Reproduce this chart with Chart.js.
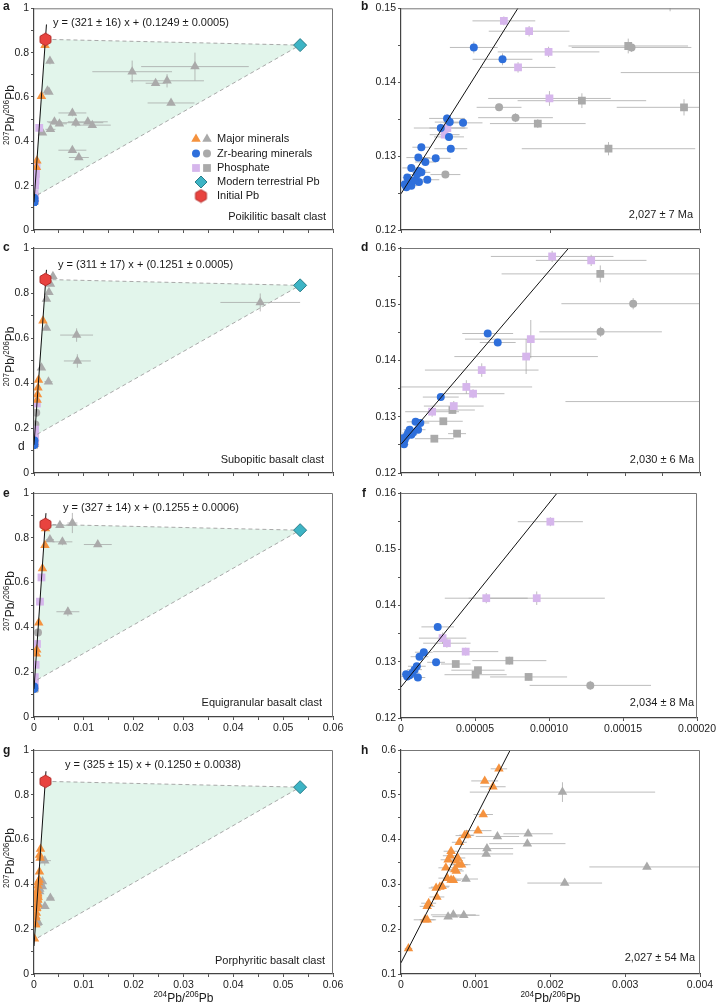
<!DOCTYPE html>
<html>
<head>
<meta charset="utf-8">
<script src="https://cdn.jsdelivr.net/npm/chart.js@4"></script>
<style>
  body { margin: 0; background: #fff; }
  #wrap { position: relative; width: 718px; height: 1007px; }
  #wrap canvas { position: absolute; left: 0; top: 0; }
</style>
</head>
<body>
<div id="wrap"></div>
<script>
// ---- data: each point is [x, y, xErr, yErr] ----

const initialPb = [0.0023, 0.86];
const modernPb = [0.0534, 0.834];

// b (zoom of a)
const bZr = [[4.87e-5,0.1447,1.6e-5,0.0008],[6.79e-5,0.1431,2.0e-5,0.0008],[3.08e-5,0.1351,1.2e-5,0.0006],
  [3.26e-5,0.1346,1.0e-5,0.0006],[2.66e-5,0.1338,1.8e-5,0.0006],[4.15e-5,0.1345,1.3e-5,0.0006],
  [3.21e-5,0.1326,1.0e-5,0.0005],[3.33e-5,0.1310,1.1e-5,0.0005],[1.36e-5,0.1312,6e-6,0.0004],
  [1.16e-5,0.1298,8e-6,0.0004],[2.32e-5,0.1297,1.0e-5,0.0004],[1.63e-5,0.1292,7e-6,0.0004],
  [6.9e-6,0.1284,6e-6,0.0004],[1.2e-5,0.1280,5e-6,0.0003],[1.36e-5,0.1278,6e-6,0.0003],
  [1.07e-5,0.1275,5e-6,0.0003],[1.76e-5,0.1268,8e-6,0.0003],[4.2e-6,0.1271,3e-6,0.0003],
  [5.4e-6,0.1267,3e-6,0.0003],[2.5e-6,0.1262,3e-6,0.0003],[6.9e-6,0.1260,4e-6,0.0003],
  [1.2e-5,0.1265,5e-6,0.0003],[9.2e-6,0.1267,4e-6,0.0003],[3.6e-6,0.1258,3e-6,0.0003]];
const bZrGrey = [[1.542e-4,0.1447,4.0e-5,0.0006],[6.56e-5,0.1366,1.5e-5,0.0005],
  [7.66e-5,0.1352,2.5e-5,0.0006],[2.97e-5,0.1275,1.0e-5,0.0004]];
const bPhos = [[6.88e-5,0.1483,2.1e-5,0.0006],[8.57e-5,0.1469,2.7e-5,0.0007],[9.87e-5,0.1441,3.4e-5,0.0007],
  [7.83e-5,0.1420,2.5e-5,0.0007],[9.93e-5,0.1378,4.1e-5,0.0010],[3.10e-5,0.1338,1.2e-5,0.0006],
  [2.92e-5,0.1329,1.0e-5,0.0005]];
const bPhosGrey = [[1.52e-4,0.1449,4.0e-5,0.0010],[1.21e-4,0.1375,4.3e-5,0.0010],[1.893e-4,0.1366,4.5e-5,0.0011],
  [9.15e-5,0.1344,3.2e-5,0.0006],[1.388e-4,0.1310,5.8e-5,0.0009],[1.8e-4,0.1508,3e-5,0.0012],
  [2.3e-4,0.1413,8.3e-5,0.0008]];

// a (extra points outside the b window)
const aMajor = [[0.00221,0.833,0,0],[0.00149,0.603,0,0],[0.00058,0.3125,0,0],[0.00049,0.283,0,0]];
const aMajorGrey = [[0.0032,0.762,0.0005,0.015],[0.0027,0.628,0.0004,0.01],[0.0030,0.622,0.0005,0.01],
  [0.0197,0.714,0.0080,0.05],[0.0323,0.737,0.0108,0.063],[0.0244,0.662,0.0020,0.01],
  [0.0267,0.673,0.0074,0.03],[0.0275,0.573,0.0047,0.01],[0.0077,0.528,0.0028,0.015],
  [0.0041,0.488,0.0015,0.01],[0.0051,0.479,0.0015,0.01],[0.0084,0.484,0.0055,0.02],
  [0.0108,0.488,0.0040,0.01],[0.0117,0.473,0.0037,0.01],[0.0033,0.454,0.0010,0.01],
  [0.0017,0.439,0.0005,0.01],[0.0077,0.360,0.0028,0.01],[0.0090,0.327,0.0020,0.01]];
const aPhos = [[0.00105,0.461,0,0],[0.00051,0.29,0,0],[0.0004,0.253,0,0],[0.0003,0.223,0,0],
  [0.00023,0.2,0,0],[0.00012,0.164,0,0]];

// d (zoom of c)
const dZr = [[5.80e-5,0.1448,1.7e-5,0.0006],[6.47e-5,0.1432,1.2e-5,0.0005],[2.66e-5,0.1335,1.2e-5,0.0005],
  [9.8e-6,0.1291,6e-6,0.0004],[1.29e-5,0.1289,6e-6,0.0004],[1.14e-5,0.1277,5e-6,0.0003],
  [5.8e-6,0.1277,4e-6,0.0003],[4.7e-6,0.1271,4e-6,0.0003],[3.6e-6,0.1265,3e-6,0.0003],
  [6.9e-6,0.1268,4e-6,0.0003],[2.5e-6,0.1259,3e-6,0.0003],[2.0e-6,0.1251,3e-6,0.0003],
  [1.3e-6,0.1262,3e-6,0.0003],[8.0e-6,0.1272,4e-6,0.0003]];
const dZrGrey = [[1.553e-4,0.1501,4.8e-5,0.0010],[1.335e-4,0.1451,4.1e-5,0.0009]];
const dPhos = [[1.011e-4,0.1585,4.1e-5,0.0010],[1.272e-4,0.1578,3.7e-5,0.0010],[8.68e-5,0.1438,4.4e-5,0.0034],
  [8.37e-5,0.1407,4.8e-5,0.0031],[5.40e-5,0.1383,3.8e-5,0.0012],[4.37e-5,0.1353,4.4e-5,0.0012],
  [4.82e-5,0.1341,2.1e-5,0.0008],[3.53e-5,0.1319,2.0e-5,0.0009],[2.08e-5,0.1309,1.8e-5,0.0009]];
const dPhosGrey = [[1.333e-4,0.1554,6.6e-5,0.0015],[3.44e-5,0.1312,1.5e-5,0.0006],[2.83e-5,0.1292,1.3e-5,0.0006],
  [2.23e-5,0.1261,1.3e-5,0.0005],[3.75e-5,0.1270,6e-6,0.0003],[2.3e-4,0.1561,2.6e-5,0.0008],
  [2.4e-4,0.1327,1.3e-4,0.0008]];

// c (extra points)
const cMajor = [[0.0018,0.677,0,0],[0.00090,0.413,0,0],[0.00080,0.379,0,0],[0.00070,0.349,0,0],[0.00062,0.324,0,0]];
const cMajorGrey = [[0.0038,0.874,0.0005,0.01],[0.0033,0.840,0.0004,0.01],[0.0030,0.803,0.0004,0.01],
  [0.0025,0.773,0.0004,0.01],[0.0025,0.644,0.0004,0.01],[0.00855,0.613,0.0033,0.03],
  [0.0087,0.498,0.0027,0.03],[0.0029,0.406,0.0008,0.01],[0.0015,0.468,0.0004,0.01],
  [0.0454,0.758,0.008,0.04]];
const cPhos = [[0.00057,0.309,0,0],[0.00022,0.193,0,0],[0.00015,0.171,0,0]];
const cZrGrey = [[0.00045,0.268,0,0],[0.00028,0.216,0,0]];

// f (zoom of e)
const fZr = [[2.48e-5,0.1362,1.1e-5,0.0006],[1.54e-5,0.1317,6e-6,0.0004],[1.25e-5,0.1309,6e-6,0.0004],
  [2.37e-5,0.1299,6e-6,0.0004],[1.07e-5,0.1292,6e-6,0.0003],[9.2e-6,0.1286,5e-6,0.0003],
  [7.6e-6,0.1280,5e-6,0.0003],[5.8e-6,0.1276,4e-6,0.0003],[4.2e-6,0.1274,4e-6,0.0003],
  [1.14e-5,0.1272,5e-6,0.0003],[3.5e-6,0.1278,3e-6,0.0003]];
const fZrGrey = [[1.279e-4,0.1258,4.1e-5,0.0008]];
const fPhos = [[1.009e-4,0.1549,2.2e-5,0.0008],[5.76e-5,0.1413,2.8e-5,0.0009],[9.17e-5,0.1413,4.6e-5,0.0012],
  [2.81e-5,0.1342,1.6e-5,0.0010],[3.10e-5,0.1333,1.6e-5,0.0008],[4.37e-5,0.1318,2.2e-5,0.0007]];
const fPhosGrey = [[3.70e-5,0.1296,1.0e-5,0.0004],[7.32e-5,0.1302,2.5e-5,0.0007],[5.20e-5,0.1285,1.8e-5,0.0006],
  [5.04e-5,0.1277,2.1e-5,0.0006],[8.62e-5,0.1273,2.6e-5,0.0006]];

// e (extra points)
const eMajor = [[0.0023,0.841,0,0],[0.0022,0.767,0,0],[0.0017,0.663,0,0],[0.00095,0.421,0,0],
  [0.00055,0.300,0,0],[0.00048,0.282,0,0]];
const eMajorGrey = [[0.0052,0.856,0.0025,0.01],[0.0077,0.866,0.001,0.045],[0.0032,0.792,0.0008,0.01],
  [0.0057,0.782,0.002,0.015],[0.0128,0.770,0.0028,0.01],[0.0068,0.470,0.0023,0.02]];
const ePhos = [[0.0015,0.623,0,0],[0.0012,0.515,0,0],[0.0006,0.326,0,0],[0.00033,0.233,0,0],[0.00017,0.178,0,0]];
const eZrGrey = [[0.0008,0.377,0,0],[0.00013,0.166,0,0]];

// h (and g)
const hMajor = [[0.00131,0.558,0.00011,0.004],[0.00112,0.531,0.00018,0.004],[0.00123,0.518,0.00017,0.004],
  [0.00110,0.456,0.00013,0.004],[0.00103,0.420,0.00018,0.004],[0.00085,0.409,0.00012,0.004],
  [0.00088,0.410,0.0001,0.004],[0.00078,0.394,0.0001,0.004],[0.00067,0.374,0.0001,0.004],
  [0.00066,0.364,0.0001,0.004],[0.00063,0.355,0.0001,0.004],[0.00076,0.359,0.0001,0.004],
  [0.00077,0.344,0.00012,0.004],[0.00081,0.344,0.00012,0.004],[0.00073,0.353,0.0001,0.004],
  [0.00072,0.333,0.0001,0.004],[0.00074,0.330,0.0001,0.004],[0.00060,0.337,0.0001,0.004],
  [0.00062,0.314,0.00012,0.004],[0.00067,0.310,0.0001,0.004],[0.00070,0.309,0.0001,0.004],
  [0.00052,0.294,0.00012,0.004],[0.00047,0.292,0.0001,0.004],[0.00055,0.296,0.0001,0.004],
  [0.00048,0.272,0.0001,0.004],[0.00037,0.258,0.0001,0.004],[0.00035,0.251,0.0001,0.004],
  [0.00032,0.221,0.00015,0.004],[0.00035,0.221,0.0001,0.004],[0.00010,0.157,0.00005,0.004]];
const hMajorGrey = [[0.00216,0.506,0.00124,0.022],[0.00129,0.407,0.00029,0.005],[0.00170,0.413,0.00033,0.005],
  [0.00169,0.391,0.00051,0.005],[0.00115,0.380,0.00035,0.005],[0.00114,0.368,0.00036,0.005],
  [0.00087,0.312,0.00016,0.005],[0.00329,0.339,0.00077,0.005],[0.00219,0.303,0.0005,0.005],
  [0.00063,0.228,0.00021,0.005],[0.00070,0.232,0.0003,0.005],[0.00084,0.231,0.00021,0.005]];

// isochron end points and lower corner of the mixing triangle
const isoA = [[0, 0.1249], [0.0025, 0.927]];
const isoC = [[0, 0.1251], [0.0025, 0.903]];
const isoE = [[0, 0.1255], [0.0024, 0.910]];
const isoG = [[0, 0.125], [0.0024, 0.905]];
const isoB = [[0, 0.1249], [0.0002, 0.1891]];
const isoD = [[0, 0.1251], [0.0002, 0.1873]];
const isoF = [[0, 0.1255], [0.0002, 0.1909]];
const isoH = [[0, 0.125], [0.002, 0.775]];
const lowA = [0, 0.149], lowC = [0, 0.164], lowE = [0, 0.158], lowG = [0, 0.152];

// ---- drawing ----
const FF = "'Liberation Sans', Arial, sans-serif";
Chart.defaults.font.family = FF;
const W = 718, H = 1007, YW = 30, XH = 22;
const ORANGE = '#F5923E', GREY = '#AAAAAA', BLUE = '#2E6FDB', PURPLE = '#D6B6EC';
const CYAN = '#3DB4C5', RED = '#E8433F';

const hexImg = (() => {
  const c = document.createElement('canvas');
  c.width = c.height = 15;
  const g = c.getContext('2d');
  g.beginPath();
  for (let i = 0; i < 6; i++) {
    const a = Math.PI / 3 * i + Math.PI / 6;
    g.lineTo(7.5 + 6.3 * Math.cos(a), 7.5 + 6.3 * Math.sin(a));
  }
  g.closePath();
  g.fillStyle = RED; g.fill();
  g.strokeStyle = '#B32B28'; g.lineWidth = 1; g.stroke();
  return c;
})();

const pts = arr => arr.map(p => ({x: p[0], y: p[1], xe: p[2] || 0, ye: p[3] || 0}));

function marks(arr, style, color, r) {
  return {data: pts(arr), pointStyle: style, pointRadius: r, backgroundColor: color,
    borderColor: color, pointBorderWidth: 0, errbars: true};
}
function line(arr, color, dash) {
  return {data: pts(arr), showLine: true, pointRadius: 0, borderColor: color,
    borderWidth: 1, borderDash: dash || []};
}

function axis(min, max, step, major, fmt, isX) {
  return {
    type: 'linear', min, max,
    afterFit(s) { if (isX) s.height = XH; else s.width = YW; },
    ticks: {
      stepSize: step, autoSkip: false, maxRotation: 0, padding: 2, color: '#222',
      font: {size: 10.5},
      callback(v) {
        if (!fmt) return '';
        const k = v / major;
        return Math.abs(k - Math.round(k)) < 1e-6 ? fmt(v) : '';
      }
    },
    grid: {drawOnChartArea: false, tickLength: 3, tickColor: '#555'},
    border: {color: '#444', width: 1.2}
  };
}
const f1 = v => Math.abs(v) < 1e-9 ? '0' : Math.abs(v - 1) < 1e-9 ? '1' : v.toFixed(1);
const f2 = v => Math.abs(v) < 1e-9 ? '0' : v.toFixed(2);
const f3 = v => Math.abs(v) < 1e-9 ? '0' : v.toFixed(3);
const f5 = v => Math.abs(v) < 1e-9 ? '0' : v.toFixed(5);

function drawShape(ctx, style, x, y, r, color) {
  ctx.fillStyle = color;
  ctx.beginPath();
  if (style === 'triangle') {
    ctx.moveTo(x, y - r); ctx.lineTo(x + r * 0.866, y + r / 2); ctx.lineTo(x - r * 0.866, y + r / 2);
  } else if (style === 'circle') {
    ctx.arc(x, y, r, 0, Math.PI * 2);
  } else if (style === 'rect') {
    const s = r * Math.SQRT1_2; ctx.rect(x - s, y - s, 2 * s, 2 * s);
  } else if (style === 'rectRot') {
    ctx.moveTo(x, y - r); ctx.lineTo(x + r, y); ctx.lineTo(x, y + r); ctx.lineTo(x - r, y);
  }
  ctx.closePath();
  ctx.fill();
  if (style === 'rectRot') { ctx.strokeStyle = '#2A7E8A'; ctx.lineWidth = 1; ctx.stroke(); }
}

function supText(ctx, parts, cx, cy, size) {
  let w = 0;
  parts.forEach(([t, s]) => { ctx.font = (s ? size * 0.68 : size) + 'px ' + FF; w += ctx.measureText(t).width; });
  let x = cx - w / 2;
  ctx.textAlign = 'left'; ctx.textBaseline = 'middle';
  parts.forEach(([t, s]) => {
    ctx.font = (s ? size * 0.68 : size) + 'px ' + FF;
    ctx.fillText(t, x, s ? cy - size * 0.38 : cy);
    x += ctx.measureText(t).width;
  });
}
const ratioY = [['207', true], ['Pb/', false], ['206', true], ['Pb', false]];
const ratioX = [['204', true], ['Pb/', false], ['206', true], ['Pb', false]];

const panelPlugin = {
  id: 'panel',
  beforeDatasetsDraw(chart, args, o) {
    const {ctx, chartArea: a, scales: {x, y}} = chart;
    ctx.save();
    ctx.beginPath(); ctx.rect(a.left, a.top, a.width, a.height); ctx.clip();
    if (o.region) {
      ctx.beginPath();
      o.region.forEach(p => ctx.lineTo(x.getPixelForValue(p[0]), y.getPixelForValue(p[1])));
      ctx.closePath();
      ctx.fillStyle = '#E2F5EB';
      ctx.fill();
    }
    ctx.strokeStyle = 'rgba(160,160,160,0.7)';
    ctx.lineWidth = 1;
    chart.data.datasets.forEach(ds => {
      if (!ds.errbars) return;
      ds.data.forEach(p => {
        const px = x.getPixelForValue(p.x), py = y.getPixelForValue(p.y);
        ctx.beginPath();
        if (p.xe) {
          ctx.moveTo(x.getPixelForValue(p.x - p.xe), py);
          ctx.lineTo(x.getPixelForValue(p.x + p.xe), py);
        }
        if (p.ye) {
          ctx.moveTo(px, y.getPixelForValue(p.y - p.ye));
          ctx.lineTo(px, y.getPixelForValue(p.y + p.ye));
        }
        ctx.stroke();
      });
    });
    ctx.restore();
  },
  afterDraw(chart, args, o) {
    const {ctx, chartArea: a} = chart;
    ctx.save();
    ctx.strokeStyle = '#777'; ctx.lineWidth = 1;
    ctx.beginPath();
    ctx.moveTo(a.left, a.top + 0.5); ctx.lineTo(a.right - 0.5, a.top + 0.5); ctx.lineTo(a.right - 0.5, a.bottom);
    ctx.stroke();
    ctx.fillStyle = '#1a1a1a';
    (o.texts || []).forEach(t => {
      ctx.font = (t.bold ? 'bold ' : '') + (t.size || 11) + 'px ' + FF;
      ctx.textAlign = t.align || 'left';
      ctx.textBaseline = 'middle';
      ctx.fillText(t.t, t.x, t.y);
    });
    if (o.yTitle) {
      ctx.save();
      ctx.translate(11, (a.top + a.bottom) / 2 - 4);
      ctx.rotate(-Math.PI / 2);
      supText(ctx, ratioY, 0, 0, 12);
      ctx.restore();
    }
    if (o.xTitle) supText(ctx, ratioX, (a.left + a.right) / 2, 999, 12);
    if (o.legend) {
      const rows = [['Major minerals', 'triangle', ORANGE, 5.5], ['Zr-bearing minerals', 'circle', BLUE, 4],
        ['Phosphate', 'rect', PURPLE, 5.5]];
      rows.forEach((r, i) => {
        const yy = 139 + i * 14.5;
        drawShape(ctx, r[1], 196, yy, r[3], r[2]);
        drawShape(ctx, r[1], 207, yy, r[3], GREY);
        ctx.fillStyle = '#1a1a1a'; ctx.font = '11px ' + FF; ctx.textAlign = 'left'; ctx.textBaseline = 'middle';
        ctx.fillText(r[0], 217, yy);
      });
      drawShape(ctx, 'rectRot', 201, 182, 6, CYAN);
      ctx.drawImage(hexImg, 201 - 7.5, 196 - 7.5);
      ctx.fillStyle = '#1a1a1a';
      ctx.fillText('Modern terrestrial Pb', 217, 182);
      ctx.fillText('Initial Pb', 217, 196);
    }
    ctx.restore();
  }
};

function makeChart(area, scales, datasets, opts) {
  const c = document.createElement('canvas');
  c.width = W; c.height = H;
  document.getElementById('wrap').appendChild(c);
  const [L, T, R, B] = area;
  return new Chart(c, {
    type: 'scatter',
    data: {datasets},
    options: {
      responsive: false, animation: false, events: [],
      layout: {padding: {left: L - YW, top: T, right: W - R, bottom: H - B - XH}},
      scales,
      plugins: {legend: {display: false}, tooltip: {enabled: false}, panel: opts}
    },
    plugins: [panelPlugin]
  });
}

function overview(iso, low, major, majorGrey, zr, zrGrey, phos, phosGrey) {
  return [
    {data: pts([initialPb]), pointStyle: hexImg, pointRadius: 7},
    {data: pts([modernPb]), pointStyle: 'rectRot', pointRadius: 6.5, backgroundColor: CYAN,
      borderColor: '#2A7E8A', pointBorderWidth: 1},
    line(iso, '#111'),
    line([initialPb, modernPb, low], '#A8A8A8', [4, 3]),
    marks(major, 'triangle', ORANGE, 5.5),
    marks(zr, 'circle', BLUE, 4),
    marks(phos, 'rect', PURPLE, 5.5),
    marks(majorGrey, 'triangle', GREY, 5.5),
    marks(zrGrey, 'circle', GREY, 4),
    marks(phosGrey, 'rect', GREY, 5.5)
  ];
}

const leftY = () => axis(0, 1, 0.1, 0.2, f1, false);

// a
makeChart([34, 6, 333, 230], {x: axis(0, 0.06, 0.005, 0.01, null, true), y: leftY()},
  overview(isoA, lowA, aMajor, aMajorGrey, bZr, bZrGrey, aPhos.concat(bPhos), bPhosGrey),
  {region: [lowA, initialPb, modernPb], yTitle: true, legend: true, texts: [
    {t: 'a', x: 3, y: 7, bold: true, size: 12},
    {t: 'y = (321 ± 16) x + (0.1249 ± 0.0005)', x: 53, y: 23},
    {t: 'Poikilitic basalt clast', x: 326, y: 217, align: 'right'}]});
// b
makeChart([401, 6, 700, 230], {x: axis(0, 0.0002, 0.0001, 0.0001, null, true),
  y: axis(0.12, 0.15, 0.005, 0.01, f2, false)},
  [line(isoB, '#111'), marks(bZr, 'circle', BLUE, 4), marks(bPhos, 'rect', PURPLE, 5.5),
   marks(bZrGrey, 'circle', GREY, 4), marks(bPhosGrey, 'rect', GREY, 5.5)],
  {texts: [{t: 'b', x: 361, y: 7, bold: true, size: 12},
    {t: '2,027 ± 7 Ma', x: 693, y: 215, align: 'right'}]});
// c
makeChart([34, 248, 333, 473], {x: axis(0, 0.06, 0.005, 0.01, null, true), y: leftY()},
  overview(isoC, lowC, cMajor, cMajorGrey, dZr, cZrGrey.concat(dZrGrey), cPhos.concat(dPhos), dPhosGrey),
  {region: [lowC, initialPb, modernPb], yTitle: true, texts: [
    {t: 'c', x: 3, y: 248, bold: true, size: 12},
    {t: 'd', x: 18, y: 447, size: 12},
    {t: 'y = (311 ± 17) x + (0.1251 ± 0.0005)', x: 58, y: 265},
    {t: 'Subopitic basalt clast', x: 324, y: 460, align: 'right'}]});
// d
makeChart([401, 248, 700, 473], {x: axis(0, 0.0002, 0.000025, 0.00005, null, true),
  y: axis(0.12, 0.16, 0.005, 0.01, f2, false)},
  [line(isoD, '#111'), marks(dZr, 'circle', BLUE, 4), marks(dPhos, 'rect', PURPLE, 5.5),
   marks(dZrGrey, 'circle', GREY, 4), marks(dPhosGrey, 'rect', GREY, 5.5)],
  {texts: [{t: 'd', x: 361, y: 248, bold: true, size: 12},
    {t: '2,030 ± 6 Ma', x: 694, y: 460, align: 'right'}]});
// e
makeChart([34, 493, 333, 717], {x: axis(0, 0.06, 0.005, 0.01, f2, true), y: leftY()},
  overview(isoE, lowE, eMajor, eMajorGrey, fZr, eZrGrey.concat(fZrGrey), ePhos.concat(fPhos), fPhosGrey),
  {region: [lowE, initialPb, modernPb], yTitle: true, texts: [
    {t: 'e', x: 3, y: 494, bold: true, size: 12},
    {t: 'y = (327 ± 14) x + (0.1255 ± 0.0006)', x: 63, y: 508},
    {t: 'Equigranular basalt clast', x: 322, y: 703, align: 'right'}]});
// f
makeChart([401, 493, 700, 718], {x: axis(0, 0.0002, 0.00005, 0.00005, f5, true),
  y: axis(0.12, 0.16, 0.005, 0.01, f2, false)},
  [line(isoF, '#111'), marks(fZr, 'circle', BLUE, 4), marks(fPhos, 'rect', PURPLE, 5.5),
   marks(fZrGrey, 'circle', GREY, 4), marks(fPhosGrey, 'rect', GREY, 5.5)],
  {texts: [{t: 'f', x: 362, y: 494, bold: true, size: 12},
    {t: '2,034 ± 8 Ma', x: 694, y: 703, align: 'right'}]});
// g
makeChart([34, 750, 333, 974], {x: axis(0, 0.06, 0.005, 0.01, f2, true), y: leftY()},
  overview(isoG, lowG, hMajor, hMajorGrey, [], [], [], []),
  {region: [lowG, initialPb, modernPb], yTitle: true, xTitle: true, texts: [
    {t: 'g', x: 3, y: 751, bold: true, size: 12},
    {t: 'y = (325 ± 15) x + (0.1250 ± 0.0038)', x: 65, y: 765},
    {t: 'Porphyritic basalt clast', x: 325, y: 961, align: 'right'}]});
// h
makeChart([401, 750, 700, 974], {x: axis(0, 0.004, 0.001, 0.001, f3, true),
  y: axis(0.1, 0.6, 0.05, 0.1, f1, false)},
  [line(isoH, '#111'), marks(hMajor, 'triangle', ORANGE, 5.5), marks(hMajorGrey, 'triangle', GREY, 5.5)],
  {xTitle: true, texts: [{t: 'h', x: 361, y: 751, bold: true, size: 12},
    {t: '2,027 ± 54 Ma', x: 695, y: 958, align: 'right'}]});
</script>
</body>
</html>
